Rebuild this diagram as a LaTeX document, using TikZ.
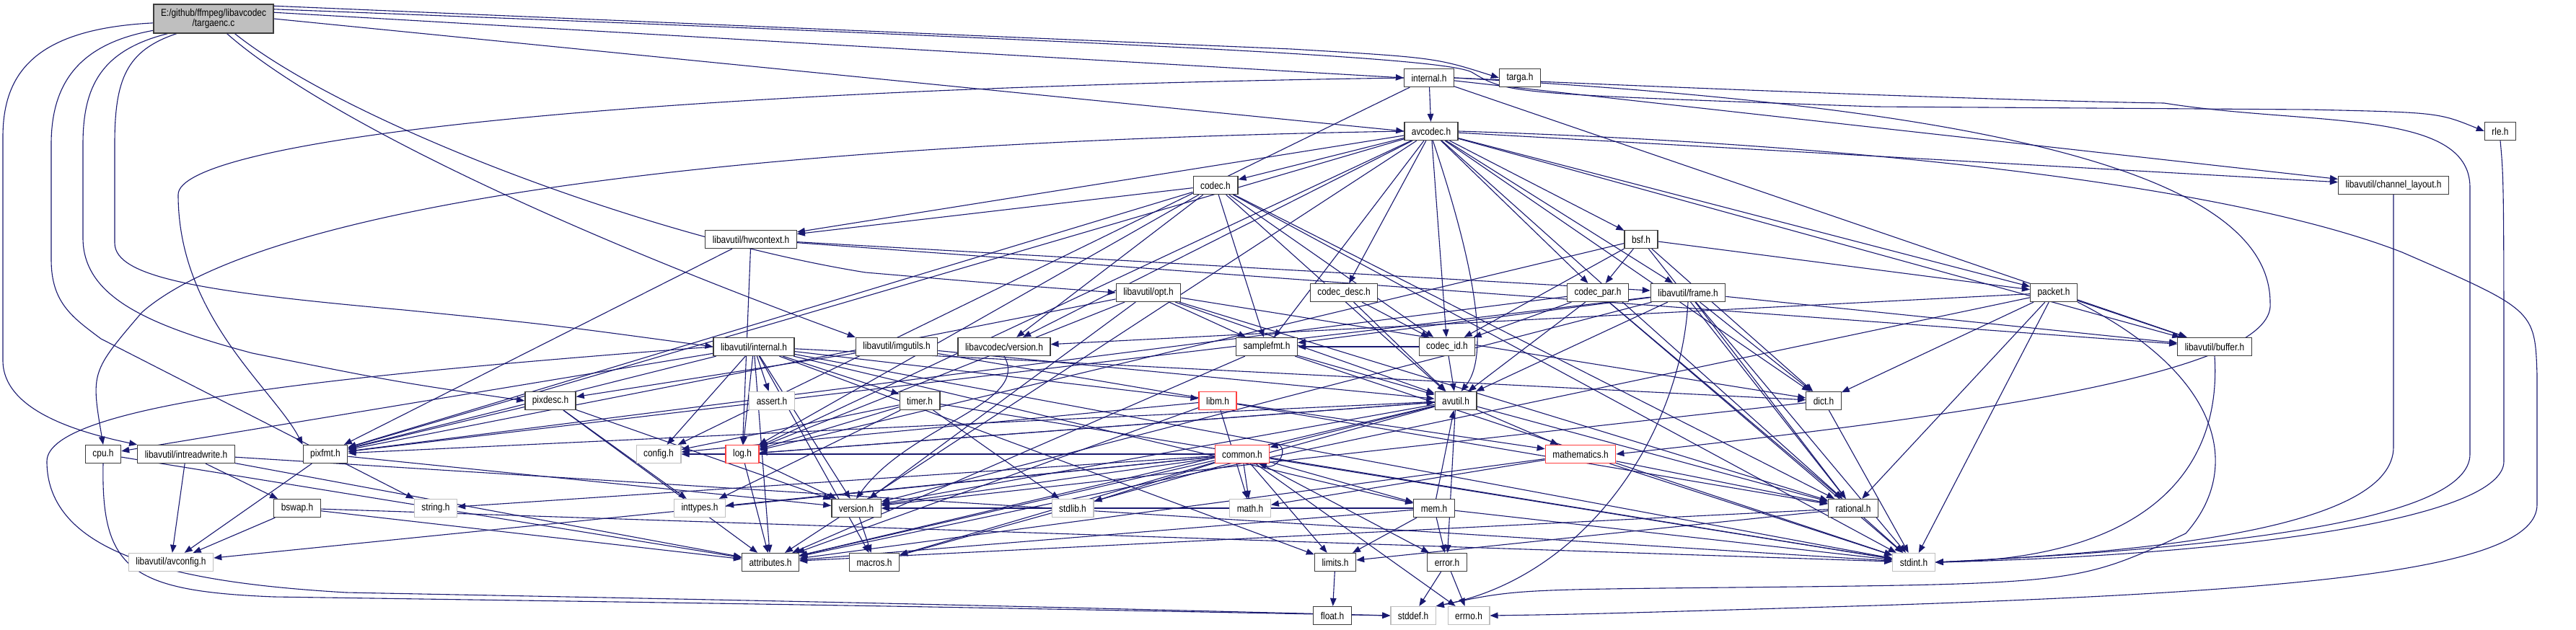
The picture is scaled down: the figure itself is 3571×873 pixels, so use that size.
\documentclass[tikz,border=0pt]{standalone}
\usepackage{fontspec}
\setmainfont{Liberation Sans}[FakeStretch=0.85]
\usetikzlibrary{arrows.meta,calc}
\pgfdeclarelayer{bg}
\pgfdeclarelayer{edges}
\pgfsetlayers{bg,edges,main}
\definecolor{edgeblue}{RGB}{25,25,112}
\definecolor{sysgray}{RGB}{191,191,191}
\definecolor{truncred}{RGB}{255,64,64}
\definecolor{bord}{RGB}{60,60,60}
\begin{document}
\begin{tikzpicture}[x=1pt,y=-1pt,
  box/.style={draw=bord, line width=1.3pt, fill=white, minimum height=25pt, inner ysep=0pt, inner xsep=10pt, font=\fontsize{14}{14}\selectfont},
  sys/.style={box, draw=sysgray},
  trn/.style={box, draw=truncred},
  root/.style={box, fill=sysgray, minimum height=40pt, align=center},
  dep/.style={draw=edgeblue, line width=1.1pt, -{Triangle[length=11pt,width=8.5pt]}}]
\begin{pgfonlayer}{bg}
\fill[white] (0,0) rectangle (3571,873);
\end{pgfonlayer}
\path[use as bounding box] (0,0) rectangle (3571,873);
% nodes
\node[root] (targaenc) at (296,26) {E:/github/ffmpeg/libavcodec\\/targaenc.c};
\node[box] (internal) at (1981,108) {internal.h};
\node[box] (targa) at (2107,108) {targa.h};
\node[box] (avcodec) at (1984,182) {avcodec.h};
\node[box] (rle) at (3466,182) {rle.h};
\node[box] (codec) at (1685,257) {codec.h};
\node[box] (chlayout) at (3318,257) {libavutil/channel\_layout.h};
\node[box] (hwcontext) at (1041,332) {libavutil/hwcontext.h};
\node[box] (bsf) at (2275,332) {bsf.h};
\node[box] (opt) at (1592,406) {libavutil/opt.h};
\node[box] (codecdesc) at (1863,406) {codec\_desc.h};
\node[box] (codecpar) at (2215,406) {codec\_par.h};
\node[box] (frame) at (2340,406) {libavutil/frame.h};
\node[box] (packet) at (2847,406) {packet.h};
\node[box] (avuinternal) at (1045,481) {libavutil/internal.h};
\node[box] (imgutils) at (1243,481) {libavutil/imgutils.h};
\node[box] (lavcversion) at (1392,481) {libavcodec/version.h};
\node[box] (samplefmt) at (1756,481) {samplefmt.h};
\node[box] (codecid) at (2006,481) {codec\_id.h};
\node[box] (buffer) at (3070,481) {libavutil/buffer.h};
\node[box] (pixdesc) at (763,556) {pixdesc.h};
\node[sys] (assert) at (1070,556) {assert.h};
\node[box] (timer) at (1275,556) {timer.h};
\node[trn] (libm) at (1688,556) {libm.h};
\node[box] (avutil) at (2018,556) {avutil.h};
\node[box] (dict) at (2528,556) {dict.h};
\node[box] (cpu) at (143,630) {cpu.h};
\node[box] (intreadwrite) at (258,630) {libavutil/intreadwrite.h};
\node[box] (pixfmt) at (451,630) {pixfmt.h};
\node[sys] (config) at (913,630) {config.h};
\node[trn] (log) at (1029,630) {log.h};
\node[trn] (common) at (1722,630) {common.h};
\node[trn] (mathematics) at (2191,630) {mathematics.h};
\node[box] (bswap) at (412,705) {bswap.h};
\node[sys] (string) at (604,705) {string.h};
\node[sys] (inttypes) at (970,705) {inttypes.h};
\node[box] (version) at (1187,705) {version.h};
\node[sys] (stdlib) at (1487,705) {stdlib.h};
\node[sys] (math) at (1733,705) {math.h};
\node[box] (mem) at (1988,705) {mem.h};
\node[box] (rational) at (2569,705) {rational.h};
\node[sys] (avconfig) at (237,780) {libavutil/avconfig.h};
\node[box] (attributes) at (1068,780) {attributes.h};
\node[box] (macros) at (1212,780) {macros.h};
\node[box] (limits) at (1851,780) {limits.h};
\node[box] (error) at (2006,780) {error.h};
\node[sys] (stdint) at (2653,780) {stdint.h};
\node[box] (float) at (1847,854) {float.h};
\node[sys] (stddef) at (1959,854) {stddef.h};
\node[sys] (errno) at (2036,854) {errno.h};
% edges
\begin{pgfonlayer}{edges}
\draw[dep] (targaenc.184) .. controls (50,40) and (4,100) .. (4,190) -- (4,500) .. controls (4,570) and (110,600) .. (intreadwrite.north west);
\draw[dep] (targaenc.191) .. controls (115,60) and (71,110) .. (71,200) -- (71,360) .. controls (71,420) and (100,440) .. (140,470) -- (string.north west);
\draw[dep] (targaenc.198) .. controls (140,70) and (115,120) .. (115,200) -- (115,330) .. controls (115,410) and (200,450) .. (350,490) .. controls (550,530) .. (pixdesc.west);
\draw[dep] (targaenc.202) .. controls (175,70) and (159,110) .. (159,200) -- (159,337) .. controls (159,385) and (280,405) .. (560,430) .. controls (760,450) .. (avuinternal.west);
\draw[dep] (targaenc.-48) .. controls (420,140) and (700,290) .. (imgutils.north west);
\draw[dep] (targaenc.-35) .. controls (480,170) and (900,330) .. (1200,378) .. controls (1400,395) .. (opt.west);
\draw[dep] (targaenc.east) -- (avcodec.west);
\draw[dep] (targaenc.6) -- (internal.west);
\draw[dep] (targaenc.12) -- (1790,68) .. controls (1990,80) .. (targa.west);
\draw[dep] (targaenc.9) .. controls (1600,60) and (2000,80) .. (2040,100) .. controls (2090,130) .. (2600,148) -- (3200,152) .. controls (3380,156) .. (rle.west);
\draw[dep] (internal.west) .. controls (800,125) and (247,200) .. (247,270) .. controls (247,440) and (380,540) .. (pixfmt.north west);
\draw[dep] (internal.east) .. controls (2400,125) and (2800,140) .. (3000,143) .. controls (3200,175) and (3424,150) .. (3424,260) -- (3424,630) .. controls (3424,720) and (3100,760) .. (stdint.east);
\draw[dep] (internal.east) .. controls (2800,150) and (3147,250) .. (3147,420) .. controls (3157,520) and (2700,580) .. (mathematics.east);
\draw[dep] (chlayout.south) -- (3318,620) .. controls (3318,730) and (3000,765) .. (stdint.east);
\draw[dep] (rle.south) .. controls (3471,250) .. (3471,640) .. controls (3471,720) and (3100,770) .. (stdint.east);
\draw[dep] (avcodec.east) .. controls (2600,200) and (3100,260) .. (3330,350) .. controls (3514,430) .. (3517,520) -- (3517,700) .. controls (3517,790) and (3200,820) .. (2600,840) .. controls (2200,852) .. (errno.east);
\draw[dep] (avcodec.west) .. controls (900,200) and (350,300) .. (197,433) .. controls (126,516) .. (cpu.north);
\draw[dep] (avcodec.-80) .. controls (2055,400) and (2060,500) .. (avutil.60);
\draw[dep] (packet.south east) .. controls (3080,520) and (3110,650) .. (3030,740) .. controls (2880,810) .. (2400,815) .. controls (2100,818) .. (stddef.north east);
\draw[dep] (frame.south) .. controls (2330,600) and (2200,800) .. (stddef.north east);
\draw[dep] (buffer.south) .. controls (3080,650) and (2980,775) .. (stdint.east);
\draw[dep] (cpu.south) .. controls (140,790) and (180,820) .. (380,828) .. controls (1200,840) .. (stddef.west);
\draw[dep] (avuinternal.west) .. controls (480,520) and (65,560) .. (65,640) .. controls (65,780) and (280,810) .. (480,822) .. controls (1200,836) .. (stddef.west);
\draw[dep] (lavcversion.south) .. controls (1430,560) and (1260,590) .. (version.north);
\draw[dep] (common.20) .. controls +(35,-8) and +(30,10) .. (common.-30);
\foreach \a/\b in {internal/avcodec, internal/buffer, internal/chlayout, internal/config,
  avcodec/samplefmt, avcodec/attributes, avcodec/buffer, avcodec/chlayout, avcodec/dict, avcodec/frame,
  avcodec/hwcontext, avcodec/log, avcodec/pixfmt, avcodec/rational, avcodec/bsf, avcodec/codec,
  avcodec/codecdesc, avcodec/codecpar, avcodec/codecid, avcodec/packet, avcodec/lavcversion,
  codec/stdint, codec/avutil, codec/hwcontext, codec/log, codec/pixfmt, codec/rational, codec/samplefmt,
  codec/codecid, codec/lavcversion,
  codecdesc/avutil, codecdesc/codecid,
  codecpar/stdint, codecpar/avutil, codecpar/rational, codecpar/pixfmt, codecpar/codecid,
  bsf/dict, bsf/log, bsf/rational, bsf/codecid, bsf/codecpar, bsf/packet,
  packet/stdint, packet/attributes, packet/buffer, packet/dict, packet/rational, packet/lavcversion,
  codecid/avutil, codecid/samplefmt,
  frame/stdint, frame/avutil, frame/buffer, frame/dict, frame/rational, frame/samplefmt, frame/pixfmt, frame/version,
  hwcontext/buffer, hwcontext/frame, hwcontext/log, hwcontext/pixfmt,
  opt/rational, opt/avutil, opt/dict, opt/log, opt/pixfmt, opt/samplefmt, opt/version,
  avuinternal/limits, avuinternal/stdint, avuinternal/assert, avuinternal/config, avuinternal/attributes,
  avuinternal/timer, avuinternal/cpu, avuinternal/dict, avuinternal/macros, avuinternal/mem,
  avuinternal/pixfmt, avuinternal/version, avuinternal/libm, avuinternal/log,
  imgutils/avutil, imgutils/pixdesc, imgutils/rational,
  mathematics/stdint, mathematics/math, mathematics/attributes, mathematics/rational,
  pixdesc/inttypes, pixdesc/attributes, pixdesc/pixfmt, pixdesc/version,
  pixfmt/avconfig, pixfmt/version,
  cpu/attributes,
  intreadwrite/stdint, intreadwrite/avconfig, intreadwrite/attributes, intreadwrite/bswap,
  bswap/stdint, bswap/avconfig, bswap/attributes,
  timer/config, timer/stdlib, timer/stdint, timer/inttypes, timer/log,
  log/avutil, log/attributes, log/version,
  avutil/common, avutil/error, avutil/rational, avutil/version, avutil/macros, avutil/mathematics,
  avutil/log, avutil/pixfmt, avutil/attributes,
  common/errno, common/inttypes, common/limits, common/math, common/stdint, common/stdlib, common/string,
  common/attributes, common/macros, common/version, common/avconfig, common/config, common/mem, common/error,
  mem/limits, mem/stdint, mem/attributes, mem/error, mem/avutil, mem/version,
  error/errno, error/stddef,
  limits/float,
  rational/stdint, rational/limits, rational/attributes,
  dict/stdint, dict/version,
  samplefmt/stdint, samplefmt/avutil, samplefmt/attributes,
  version/macros,
  libm/math, libm/config, libm/attributes, libm/mathematics}
  \draw[dep] (\a) -- (\b);
\end{pgfonlayer}
\end{tikzpicture}
\end{document}
